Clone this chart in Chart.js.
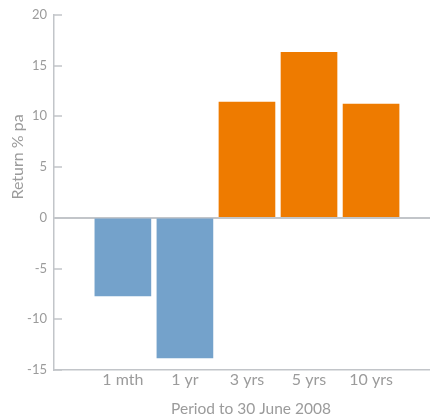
<!DOCTYPE html>
<html>
<head>
<meta charset="utf-8">
<script src="https://cdn.jsdelivr.net/npm/chart.js@4"></script>
<style>
  html, body { margin: 0; padding: 0; background: #fff; }
</style>
</head>
<body>
<canvas id="chart" width="430" height="417"></canvas>
<script>
const categories = ['1 mth', '1 yr', '3 yrs', '5 yrs', '10 yrs'];
const returns = [-7.7, -13.8, 11.4, 16.3, 11.2];
const barColours = ['#74a2cb', '#74a2cb', '#ee7b00', '#ee7b00', '#ee7b00'];
const yTicks = [-15, -10, -5, 0, 5, 10, 15, 20];
const xTitle = 'Period to 30 June 2008';
const yTitle = 'Return % pa';

const axisGrey = '#c2c5c9';
const textGrey = '#9b9b9b';
const fontFamily = 'Lato, "Open Sans", sans-serif';

// tick marks point into the plot, and the titles sit off-centre
const axisExtras = {
  id: 'axisExtras',
  afterDraw(chart) {
    const { ctx, chartArea, scales: { y } } = chart;
    ctx.save();
    ctx.strokeStyle = axisGrey;
    ctx.lineWidth = 1.5;
    yTicks.forEach(v => {
      const py = Math.round(y.getPixelForValue(v));
      ctx.beginPath();
      ctx.moveTo(chartArea.left, py);
      ctx.lineTo(chartArea.left + 8, py);
      ctx.stroke();
    });
    ctx.fillStyle = textGrey;
    ctx.font = '15.5px ' + fontFamily;
    ctx.textAlign = 'center';
    ctx.textBaseline = 'middle';
    ctx.fillText(xTitle, 251, 409);
    ctx.font = '16px ' + fontFamily;
    ctx.translate(18, 157);
    ctx.rotate(-Math.PI / 2);
    ctx.fillText(yTitle, 0, 0);
    ctx.restore();
  }
};

new Chart(document.getElementById('chart'), {
  type: 'bar',
  data: {
    datasets: [{
      data: categories.map((c, i) => ({ x: i, y: returns[i] })),
      backgroundColor: barColours,
      barThickness: 56,
      borderWidth: 0
    }]
  },
  options: {
    responsive: false,
    animation: false,
    layout: { padding: { top: 13, right: 0, left: 0, bottom: 0 } },
    plugins: { legend: { display: false }, tooltip: { enabled: false } },
    scales: {
      x: {
        type: 'linear',
        offset: false,
        bounds: 'data',
        min: -1.11,
        max: 4.95,
        afterBuildTicks: scale => { scale.ticks = categories.map((c, i) => ({ value: i })); },
        afterFit: scale => { scale.height = 47; },
        ticks: {
          callback: v => categories[v],
          color: textGrey,
          font: { family: fontFamily, size: 16 },
          padding: 0,
          maxRotation: 0,
          autoSkip: false
        },
        grid: { display: false, drawTicks: false, offset: false },
        border: { display: true, color: axisGrey, width: 1.5 }
      },
      y: {
        min: -15,
        max: 20,
        afterBuildTicks: scale => { scale.ticks = yTicks.map(v => ({ value: v })); },
        afterFit: scale => { scale.width = 54; },
        ticks: {
          color: textGrey,
          font: { family: fontFamily, size: 13 },
          padding: 7
        },
        grid: {
          drawTicks: false,
          lineWidth: 2,
          color: c => (c.tick && c.tick.value === 0) ? axisGrey : 'rgba(0,0,0,0)'
        },
        border: { display: true, color: axisGrey, width: 1.5 }
      }
    }
  },
  plugins: [axisExtras]
});
</script>
</body>
</html>
